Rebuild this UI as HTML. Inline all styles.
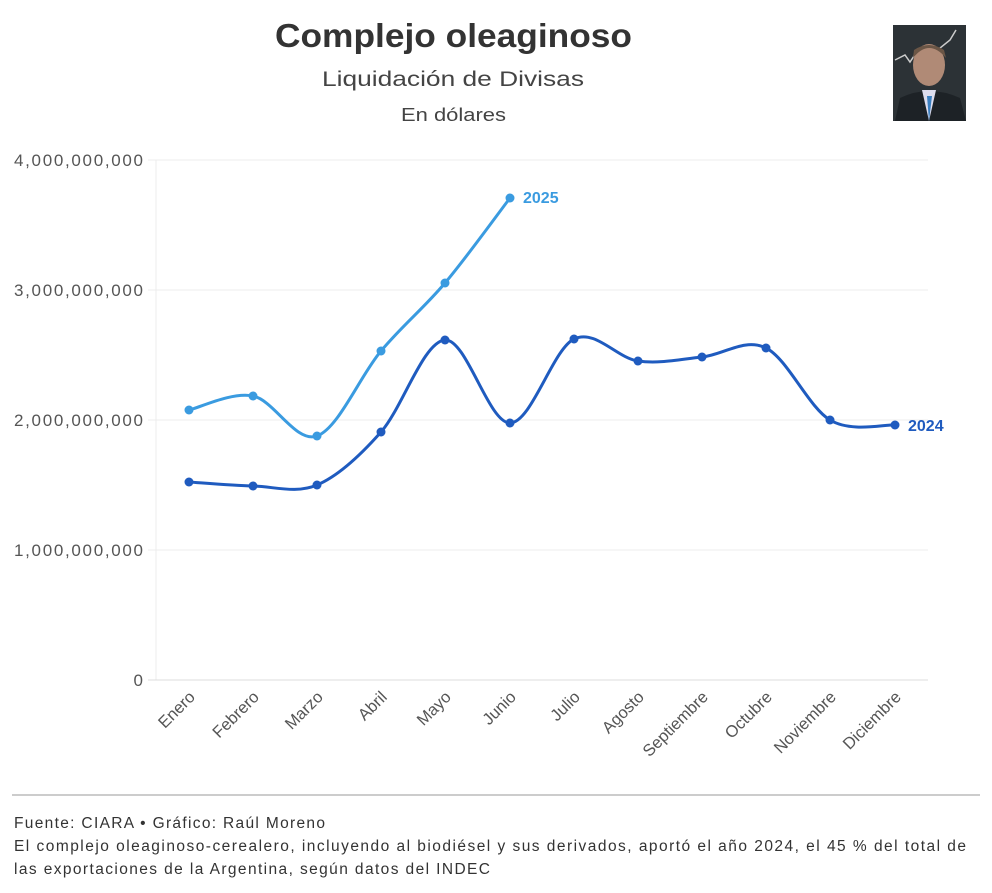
<!DOCTYPE html>
<html><head><meta charset="utf-8"><style>
body{margin:0;background:#fff;width:992px;height:893px;overflow:hidden;font-family:"Liberation Sans",sans-serif;}
</style></head><body>
<svg width="992" height="893" xmlns="http://www.w3.org/2000/svg" style="position:absolute;left:0;top:0">
<text x="275" y="47" font-size="33" font-weight="bold" fill="#333" textLength="357" lengthAdjust="spacingAndGlyphs">Complejo oleaginoso</text>
<text x="322" y="86" font-size="21" fill="#444" textLength="262" lengthAdjust="spacingAndGlyphs">Liquidación de Divisas</text>
<text x="401" y="121" font-size="18" fill="#444" textLength="105" lengthAdjust="spacingAndGlyphs">En dólares</text>
<!-- photo -->
<rect x="893" y="25" width="73" height="96" fill="#2c3236"/>
<polyline points="895,60 905,55 910,62 918,50 930,58 940,48 950,40 956,30" fill="none" stroke="#ccc" stroke-width="1.5"/>
<ellipse cx="929" cy="65" rx="16" ry="21" fill="#b08a76"/>
<path d="M913,58 Q929,38 946,58 L944,50 Q929,40 914,50Z" fill="#6b5646"/>
<path d="M895,121 L900,98 Q929,84 960,98 L966,121Z" fill="#1d2226"/>
<path d="M922,90 L929,121 L936,90Z" fill="#dde"/>
<path d="M927,96 L929,121 L932,96Z" fill="#3a7fc0"/>
<g stroke="#ececec" stroke-width="1">
<line x1="148" y1="160" x2="928" y2="160"/><line x1="148" y1="290" x2="928" y2="290"/>
<line x1="148" y1="420" x2="928" y2="420"/><line x1="148" y1="550" x2="928" y2="550"/>
<line x1="156" y1="160" x2="156" y2="680"/>
</g>
<line x1="148" y1="680" x2="928" y2="680" stroke="#ddd"/>
<g font-size="17" fill="#555" lengthAdjust="spacingAndGlyphs">
<text x="14" y="166" textLength="129">4,000,000,000</text><text x="14" y="296" textLength="129">3,000,000,000</text>
<text x="14" y="426" textLength="129">2,000,000,000</text><text x="14" y="556" textLength="129">1,000,000,000</text>
<text x="143" y="686" text-anchor="end">0</text>
</g>
<g id="months" font-size="16.5" fill="#555" text-anchor="end"></g>
<path id="p24" fill="none" stroke="#1f5bbf" stroke-width="3"/>
<path id="p25" fill="none" stroke="#3a9be0" stroke-width="3"/>
<g id="d"></g>
<text x="523" y="203" font-size="16" font-weight="bold" fill="#3a9be0">2025</text>
<text x="908" y="431" font-size="16" font-weight="bold" fill="#1f5bbf">2024</text>
<line x1="12" y1="795" x2="980" y2="795" stroke="#ccc" stroke-width="2"/>
<g font-size="15.5" fill="#333" lengthAdjust="spacingAndGlyphs">
<text x="14" y="828" textLength="311">Fuente: CIARA • Gráfico: Raúl Moreno</text>
<text x="14" y="851" textLength="952">El complejo oleaginoso-cerealero, incluyendo al biodiésel y sus derivados, aportó el año 2024, el 45 % del total de</text>
<text x="14" y="874" textLength="476">las exportaciones de la Argentina, según datos del INDEC</text>
</g>
</svg>
<script>
var xs=[189,253,317,381,445,510,574,638,702,766,830,895];
var m=["Enero","Febrero","Marzo","Abril","Mayo","Junio","Julio","Agosto","Septiembre","Octubre","Noviembre","Diciembre"];
var y24=[482,486,485,432,340,423,339,361,357,348,420,425];
var y25=[410,396,436,351,283,198];
var ns="http://www.w3.org/2000/svg";
var g=document.getElementById("months");
m.forEach(function(t,i){var e=document.createElementNS(ns,"text");e.setAttribute("transform","translate("+(xs[i]+7)+",698) rotate(-45)");e.textContent=t;g.appendChild(e);});
function path(ys){var p="M"+xs[0]+","+ys[0];for(var i=0;i<ys.length-1;i++){var x0=xs[Math.max(i-1,0)],y0=ys[Math.max(i-1,0)],x1=xs[i],y1=ys[i],x2=xs[i+1],y2=ys[i+1],x3=xs[Math.min(i+2,ys.length-1)],y3=ys[Math.min(i+2,ys.length-1)];
var c1x=x1+(x2-x0)/6,c1y=y1+(y2-y0)/6,c2x=x2-(x3-x1)/6,c2y=y2-(y3-y1)/6;p+=" C"+c1x+","+c1y+" "+c2x+","+c2y+" "+x2+","+y2;}return p;}
document.getElementById("p24").setAttribute("d",path(y24));
document.getElementById("p25").setAttribute("d",path(y25));
var d=document.getElementById("d");
function dots(ys,c){ys.forEach(function(y,i){var e=document.createElementNS(ns,"circle");e.setAttribute("cx",xs[i]);e.setAttribute("cy",y);e.setAttribute("r",4.5);e.setAttribute("fill",c);d.appendChild(e);});}
dots(y24,"#1f5bbf");dots(y25,"#3a9be0");
</script>
</body></html>
